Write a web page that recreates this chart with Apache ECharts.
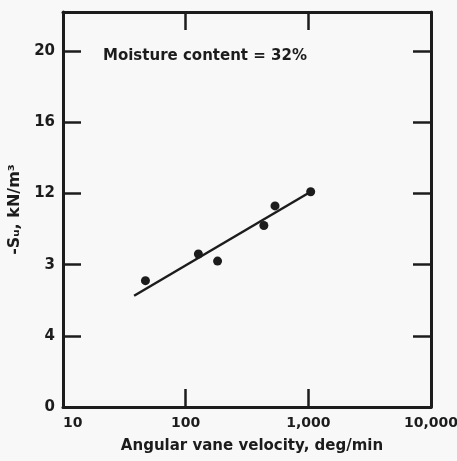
<!DOCTYPE html>
<html>
<head>
<meta charset="utf-8">
<script src="https://cdn.jsdelivr.net/npm/echarts@6/dist/echarts.min.js"></script>
<style>
  html, body { margin: 0; padding: 0; background: #f8f8f8; }
  #chart { width: 457px; height: 461px; }
</style>
</head>
<body>
<div id="chart"></div>
<script>
// measured points, vane velocity (deg/min) vs undrained strength
var velocity = [47, 127, 182, 434, 535, 1045];
var strength = [7.1, 8.6, 8.2, 10.2, 11.3, 12.1];
// fitted line end points
var fitVelocity = [38, 1045];
var fitStrength = [6.25, 12.1];

var xTicks = [10, 100, 1000, 10000];
var xTickLabels = ['10', '100', '1,000', '10,000'];
var yTicks = [0, 4, 8, 12, 16, 20];
var yTickLabels = ['0', '4', '3', '12', '16', '20'];
var topTicks = [2, 3]; // decades 100 and 1000 on the top frame

var ink = '#1c1c1c';
var font = 'DejaVu Sans';

var chart = echarts.init(document.getElementById('chart'));

function xLabel(v) {
  for (var i = 0; i < xTicks.length; i++) {
    if (Math.abs(v - xTicks[i]) < 1e-6 * xTicks[i]) return xTickLabels[i];
  }
  return '';
}
function yLabel(v) {
  var i = yTicks.indexOf(v);
  return i >= 0 ? yTickLabels[i] : '';
}

var frameLine = { show: true, onZero: false, lineStyle: { color: ink, width: 3 } };
function ticks(values) {
  return { show: true, inside: true, length: 18, customValues: values, lineStyle: { color: ink, width: 2.5 } };
}

chart.setOption({
  backgroundColor: '#f8f8f8',
  animation: false,
  grid: { left: 63, right: 26, top: 12, bottom: 54, outerBoundsMode: 'none', containLabel: false },
  xAxis: [{
    type: 'log', logBase: 10, min: 10, max: 10000,
    position: 'bottom',
    axisLine: frameLine,
    axisTick: { show: true, inside: true, length: 18, lineStyle: { color: ink, width: 2.5 } },
    minorTick: { show: false },
    splitLine: { show: false },
    axisLabel: {
      color: ink, fontFamily: font, fontWeight: 'bold', fontSize: 14, margin: 9,
      alignMinLabel: 'left',
      formatter: xLabel
    },
    name: 'Angular vane velocity, deg/min',
    nameLocation: 'middle', nameGap: 32,
    nameTextStyle: { color: ink, fontFamily: font, fontWeight: 'bold', fontSize: 15, padding: [0, 0, 0, 10] }
  }, {
    type: 'value', min: 1, max: 4,
    position: 'top',
    axisLine: frameLine,
    axisTick: ticks(topTicks),
    splitLine: { show: false },
    axisLabel: { show: false }
  }],
  yAxis: [{
    type: 'value', min: 0, max: 22.2,
    position: 'left',
    axisLine: frameLine,
    axisTick: ticks(yTicks.slice(1)),
    splitLine: { show: false },
    axisLabel: {
      color: ink, fontFamily: font, fontWeight: 'bold', fontSize: 15, margin: 8,
      customValues: yTicks, formatter: yLabel
    },
    name: '-Sᵤ, kN/m³',
    nameLocation: 'middle', nameGap: 38,
    nameTextStyle: { color: ink, fontFamily: font, fontWeight: 'bold', fontSize: 16 }
  }, {
    type: 'value', min: 0, max: 22.2,
    position: 'right',
    axisLine: frameLine,
    axisTick: ticks(yTicks.slice(1)),
    splitLine: { show: false },
    axisLabel: { show: false }
  }],
  graphic: [{
    type: 'text', left: 103, top: 49,
    style: {
      text: 'Moisture content = 32%', fill: ink,
      font: 'bold 15px "DejaVu Sans"'
    }
  }],
  series: [{
    type: 'line',
    data: fitVelocity.map(function (v, i) { return [v, fitStrength[i]]; }),
    symbol: 'none',
    lineStyle: { color: ink, width: 2.5 },
    z: 3
  }, {
    type: 'scatter',
    data: velocity.map(function (v, i) { return [v, strength[i]]; }),
    symbol: 'circle', symbolSize: 9,
    itemStyle: { color: ink, opacity: 1 },
    z: 4
  }]
});
</script>
</body>
</html>
